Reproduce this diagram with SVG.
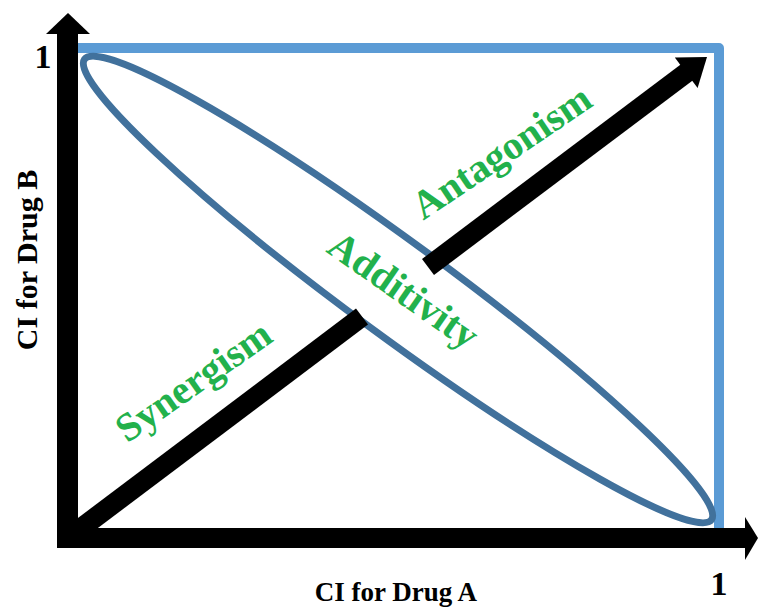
<svg xmlns="http://www.w3.org/2000/svg" width="759" height="607" viewBox="0 0 759 607">
<style>
.lbl{font-family:"Liberation Serif","Times New Roman",serif;font-weight:bold;fill:#000}
.grn{font-family:"Liberation Serif","Times New Roman",serif;font-weight:bold;fill:#22b14c;font-size:40px}
</style>
<rect width="759" height="607" fill="#fff"/>
<g id="boundary">
<path d="M68 48 H719 V538" fill="none" stroke="#5b9bd5" stroke-width="10" stroke-linejoin="round"/>
</g>
<g id="additivity-ellipse">
<ellipse cx="398" cy="289.5" rx="389" ry="47" transform="rotate(36.3 398 289.5)" fill="none" stroke="#41719c" stroke-width="7"/>
</g>
<g id="connectors">
<line x1="68" y1="538" x2="362" y2="316.6" stroke="#000" stroke-width="20"/>
<line x1="428" y1="267" x2="688" y2="71.5" stroke="#000" stroke-width="20"/>
<polygon points="707,57 697.6,87.9 674.8,57.5" fill="#000"/>
</g>
<g id="y-axis">
<rect x="57" y="31" width="21" height="517" fill="#000"/>
<polygon points="68,13 90,34 46,34" fill="#000"/>
</g>
<g id="x-axis">
<rect x="57" y="528" width="690" height="20" fill="#000"/>
<polygon points="758,538 745,517 745,560" fill="#000"/>
</g>
<g id="labels">
<text class="lbl" x="43" y="68" font-size="34" text-anchor="middle">1</text>
<text class="lbl" x="719" y="595" font-size="34" text-anchor="middle">1</text>
<text class="lbl" x="396" y="601" font-size="27" text-anchor="middle">CI for Drug A</text>
<text class="lbl" transform="translate(37 260) rotate(-90)" font-size="30" text-anchor="middle">CI for Drug B</text>
</g>
<g id="synergism">
<text class="grn" transform="translate(201 392) rotate(-35)" text-anchor="middle">Synergism</text>
</g>
<g id="antagonism">
<text class="grn" transform="translate(509 163) rotate(-34)" text-anchor="middle">Antagonism</text>
</g>
<g id="additivity">
<text class="grn" transform="translate(396 301) rotate(35)" text-anchor="middle">Additivity</text>
</g>
</svg>
